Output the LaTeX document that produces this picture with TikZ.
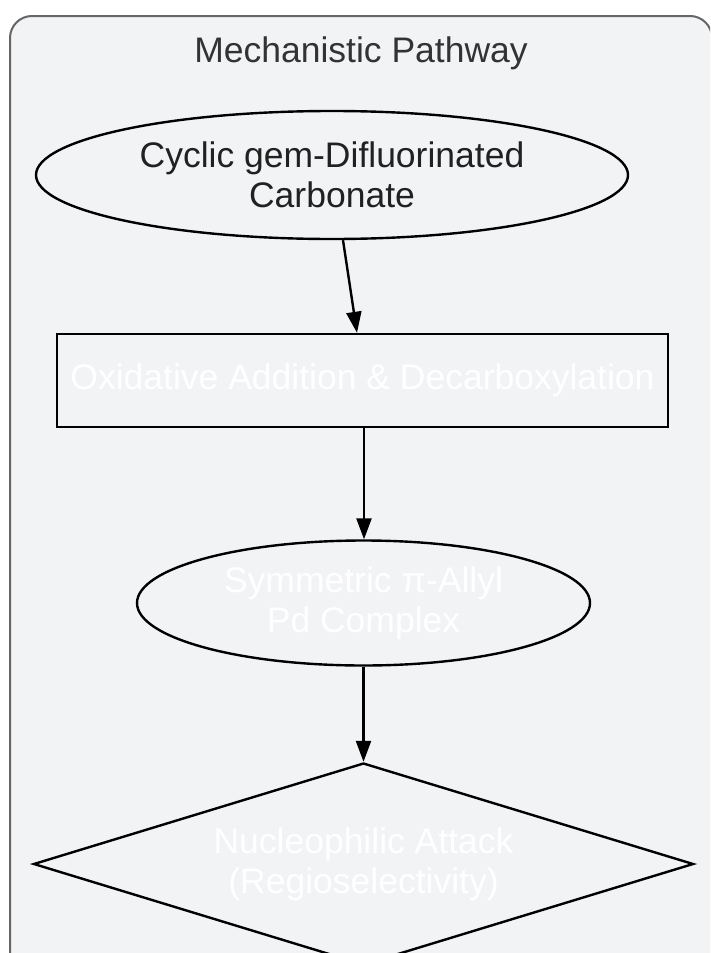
\documentclass[tikz,border=0pt]{standalone}
\usepackage{fontspec}
\setmainfont{Liberation Sans}
\usetikzlibrary{shapes.geometric,arrows.meta,calc}
\definecolor{panelbg}{HTML}{F2F3F5}
\definecolor{panelborder}{HTML}{666666}
\definecolor{titletext}{HTML}{333333}
\tikzset{
  flow/.style={draw=black, line width=2.4pt, inner sep=0pt, align=center,
    font=\fontsize{35.5}{40}\selectfont},
  oval/.style={flow, ellipse},
  boxnode/.style={flow, rectangle},
  decide/.style={flow, diamond, shape aspect=3.27},
  link/.style={draw=black, line width=2.4pt, -{Triangle[length=21pt,width=15pt]}}
}
\begin{document}
\begin{tikzpicture}[x=1pt,y=-1pt]
\useasboundingbox (0,0) rectangle (710,953);
\clip (0,0) rectangle (710,953);
\draw[fill=panelbg, draw=panelborder, line width=2pt, rounded corners=22pt] (10,16) rectangle (712,1000);
\node[text=titletext, font=\fontsize{35.5}{40}\selectfont] (title) at (361,53) {Mechanistic Pathway};
\node[oval, minimum width=592pt, minimum height=128pt, text=black!87] (e1) at (332,175) {Cyclic gem-Difluorinated\\Carbonate};
\node[boxnode, minimum width=611pt, minimum height=93pt, text=white] (r1) at (362.5,380.5) {\raisebox{-4pt}{Oxidative Addition \& Decarboxylation}};
\node[oval, minimum width=453pt, minimum height=125pt, text=white] (e2) at (363.5,603) {Symmetric π-Allyl\\Pd Complex};
\node[decide, minimum width=660pt, minimum height=202pt, text=white] (d1) at (363.5,864) {Nucleophilic Attack\\(Regioselectivity)};
\draw[link] ($(e1.south)+(11,0)$) -- ($(r1.north)+(-5.5,0)$);
\draw[link] ($(r1.south)+(1.5,0)$) -- ($(e2.north)+(0.5,0)$);
\draw[link] (e2.south) -- (d1.north);
\end{tikzpicture}
\end{document}
